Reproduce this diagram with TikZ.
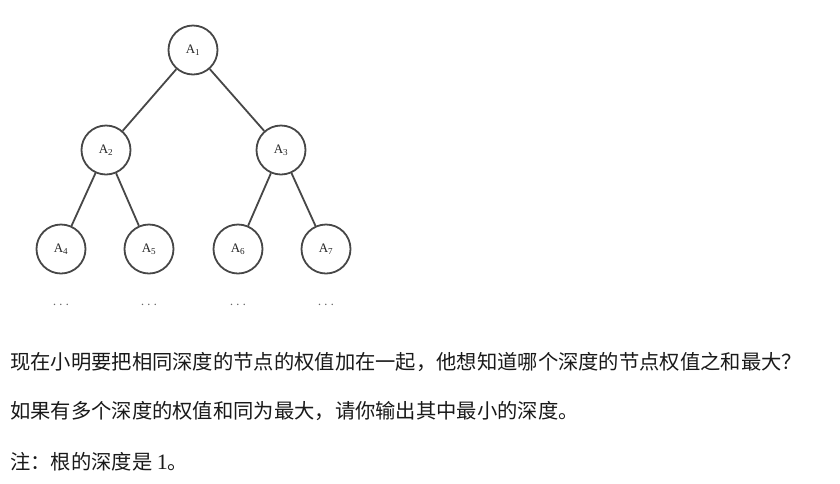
\documentclass[tikz,border=0pt]{standalone}
\usepackage{fontspec}
\setmainfont{Liberation Serif}
\newfontfamily\cjk{Noto Sans CJK SC}
\begin{document}
\begin{tikzpicture}[x=1pt,y=-1pt,
  tnode/.style={circle,draw=black!72,line width=1.8pt,minimum size=49pt,inner sep=0pt,font=\fontsize{13}{15}\selectfont,text=black!85},
  edge/.style={draw=black!72,line width=1.8pt},
  dots/.style={font=\fontsize{14}{15}\selectfont,text=black!60},
  para/.style={anchor=west,inner sep=0pt,font=\cjk\fontsize{20.3}{24}\selectfont,text=black!90}]
\useasboundingbox (0,0) rectangle (840,483);
\node[tnode] (a1) at (193,50) {A\textsubscript{1}};
\node[tnode] (a2) at (106,150) {A\textsubscript{2}};
\node[tnode] (a3) at (281,150) {A\textsubscript{3}};
\node[tnode] (a4) at (61,249) {A\textsubscript{4}};
\node[tnode] (a5) at (149,249) {A\textsubscript{5}};
\node[tnode] (a6) at (238,249) {A\textsubscript{6}};
\node[tnode] (a7) at (326,249) {A\textsubscript{7}};
\draw[edge] (a1) -- (a2);
\draw[edge] (a1) -- (a3);
\draw[edge] (a2) -- (a4);
\draw[edge] (a2) -- (a5);
\draw[edge] (a3) -- (a6);
\draw[edge] (a3) -- (a7);
\node[dots] (d4) at (61,305) {$\cdots$};
\node[dots] (d5) at (149,305) {$\cdots$};
\node[dots] (d6) at (238,305) {$\cdots$};
\node[dots] (d7) at (326,305) {$\cdots$};
\node[para] (p1) at (10,362) {现在小明要把相同深度的节点的权值加在一起，他想知道哪个深度的节点权值之和最大？};
\node[para] (p2) at (10,411) {如果有多个深度的权值和同为最大，请你输出其中最小的深度。};
\node[para] (p3) at (10,462) {注：根的深度是 {\rmfamily\fontsize{22}{24}\selectfont 1}。};
\end{tikzpicture}
\end{document}
